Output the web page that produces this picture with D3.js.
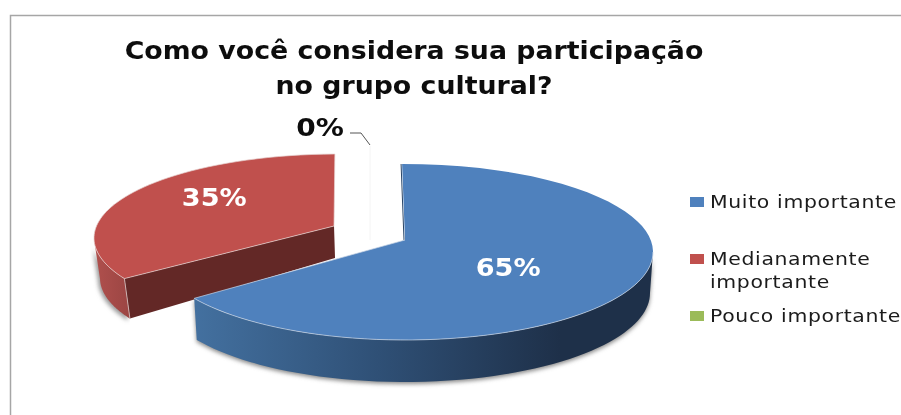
<!DOCTYPE html>
<html lang="pt">
<head>
<meta charset="utf-8">
<script src="https://cdn.jsdelivr.net/npm/d3@7"></script>
<style>
    html, body { margin: 0; padding: 0; background: #fff; overflow: hidden; }
    text { font-family: "DejaVu Sans", sans-serif; }
</style>
</head>
<body>
<svg id="chart" width="901" height="415"></svg>
<script>
// 図のデータ
const categories = ["Muito importante", "Medianamente importante", "Pouco importante"];
const values = [65, 35, 0];
const valueLabels = ["65%", "35%", "0%"];
const titleLines = ["Como você considera sua participação", "no grupo cultural?"];
const legendLines = [["Muito importante"], ["Medianamente", "importante"], ["Pouco importante"]];

const colors = ["#4f81bd", "#c0504d", "#9bbb59"];

const width = 901;
const height = 415;

const svg = d3.select("#chart");
const defs = svg.append("defs");

defs.append("filter").attr("id", "soft")
    .append("feGaussianBlur").attr("stdDeviation", 0.45);
defs.append("filter").attr("id", "shadow")
    .attr("x", "-5%").attr("y", "-5%").attr("width", "110%").attr("height", "115%")
    .append("feGaussianBlur").attr("stdDeviation", 2);

const blueWall = defs.append("linearGradient").attr("id", "blueWall")
    .attr("gradientUnits", "userSpaceOnUse")
    .attr("x1", 196).attr("x2", 560).attr("y1", 0).attr("y2", 0);
blueWall.append("stop").attr("offset", 0).attr("stop-color", "#43709f");
blueWall.append("stop").attr("offset", 0.5).attr("stop-color", "#2f5076");
blueWall.append("stop").attr("offset", 1).attr("stop-color", "#1e3049");

const redWall = defs.append("linearGradient").attr("id", "redWall")
    .attr("gradientUnits", "userSpaceOnUse")
    .attr("x1", 94).attr("x2", 130).attr("y1", 0).attr("y2", 0);
redWall.append("stop").attr("offset", 0).attr("stop-color", "#b0504d");
redWall.append("stop").attr("offset", 1).attr("stop-color", "#9b4543");

// 横に引き伸ばしたテキスト
const stretched = (sel, x, y, sx) => sel
    .attr("transform", `translate(${x},${y}) scale(${sx},1)`);

// 枠線
svg.append("path")
    .attr("d", "M10.5,415V15.5H901")
    .attr("fill", "none")
    .attr("stroke", "#a6a6a6")
    .attr("stroke-width", 1.5);

// タイトル
titleLines.forEach((t, i) => {
    svg.append("text")
        .call(stretched, 414, 59 + i * 35, 1.116)
        .attr("text-anchor", "middle")
        .attr("font-size", 24)
        .attr("font-weight", "bold")
        .attr("fill", "#111")
        .attr("filter", "url(#soft)")
        .text(t);
});

// 円グラフの角度
const TAU = Math.PI * 2;
const slices = d3.pie().sort(null).startAngle(-0.01).endAngle(TAU - 0.01)(values);

// 楕円上の点（k は遠近感のための角度補正）
const ellipse = (g, a) => {
    const t = a + (g.k * Math.PI / 180) * Math.sin(2 * a);
    return [g.cx + g.rx * Math.sin(t), g.cy - g.ry * Math.cos(t)];
};
const arcPoints = (g, a0, a1) => d3.range(0, 61).map(i => ellipse(g, a0 + (a1 - a0) * i / 60));
const line = d3.line();

const blueTop = { cx: 405, cy: 252, rx: 248, ry: 88, k: 5 };
const blueBottom = { cx: 405, cy: 293, rx: 245, ry: 89, k: 5 };
const redTop = { cx: 338, cy: 238, rx: 244, ry: 84, k: 8 };
const redBottom = { cx: 340, cy: 278, rx: 240, ry: 84, k: 8 };
const blueApex = [405, 240];
const redApex = [334, 226];
const redApexBottom = [335, 258];

const blue = slices[0];
const red = slices[1];
const chart = svg.append("g");

// 赤の側面
const redWallPts = arcPoints(redTop, red.startAngle, red.startAngle + 0.62)
    .concat(arcPoints(redBottom, red.startAngle + 0.62, red.startAngle));
chart.append("path").attr("d", line(redWallPts) + "Z")
    .attr("fill", "#999").attr("filter", "url(#shadow)").attr("transform", "translate(-2,2)");
chart.append("path").attr("d", line(redWallPts) + "Z")
    .attr("fill", "url(#redWall)");

// 赤の切断面
const redTip = ellipse(redTop, red.startAngle);
const redTipBottom = ellipse(redBottom, red.startAngle);
chart.append("path")
    .attr("d", line([redApex, redTip, redTipBottom, redApexBottom]) + "Z")
    .attr("fill", "#632826");
chart.append("path")
    .attr("d", line([redTip, redTipBottom]))
    .attr("stroke", "#d9c4c3").attr("stroke-width", 0.8);

// 赤の上面
chart.append("path")
    .attr("d", line([redApex].concat(arcPoints(redTop, red.startAngle, red.endAngle))) + "Z")
    .attr("fill", colors[1])
    .attr("stroke", "#e6d2d1")
    .attr("stroke-width", 0.7);

// 0% の細い線
chart.append("path")
    .attr("d", line([[370, 146], [370, 240]]))
    .attr("stroke", "#f4f4f4").attr("stroke-width", 1);

// 青の内側の縁
chart.append("path")
    .attr("d", line([ellipse(blueTop, blue.startAngle), blueApex]))
    .attr("stroke", "#2a4566").attr("stroke-width", 1)
    .attr("transform", "translate(-1,0)");

// 青の側面
const blueWallPts = arcPoints(blueTop, blue.endAngle, Math.PI * 0.5)
    .concat(arcPoints(blueBottom, Math.PI * 0.5, blue.endAngle));
chart.append("path").attr("d", line(blueWallPts) + "Z")
    .attr("fill", "#888").attr("filter", "url(#shadow)").attr("transform", "translate(0,2)");
chart.append("path").attr("d", line(blueWallPts) + "Z")
    .attr("fill", "url(#blueWall)");

// 青の上面
chart.append("path")
    .attr("d", line([blueApex].concat(arcPoints(blueTop, blue.startAngle, blue.endAngle))) + "Z")
    .attr("fill", colors[0]);
chart.append("path")
    .attr("d", line(arcPoints(blueTop, Math.PI * 0.5, blue.endAngle).concat([blueApex])))
    .attr("fill", "none")
    .attr("stroke", "#c5d3e4")
    .attr("stroke-width", 0.7);

// 値ラベル
const midAngle = d => (d.startAngle + d.endAngle) / 2;
const bluePos = ellipse({ ...blueTop, rx: blueTop.rx * 0.45, ry: blueTop.ry * 0.46 }, midAngle(blue));
const redPos = ellipse({ ...redTop, rx: redTop.rx * 0.54, ry: redTop.ry * 1.43 }, midAngle(red));

[[bluePos, valueLabels[0]], [redPos, valueLabels[1]]].forEach(([p, t]) => {
    svg.append("text")
        .call(stretched, p[0], p[1] + 9, 1.13)
        .attr("text-anchor", "middle").attr("font-size", 24).attr("font-weight", "bold")
        .attr("fill", "#fff").attr("filter", "url(#soft)").text(t);
});

// 0% ラベルと引き出し線
svg.append("text")
    .call(stretched, 320, 136, 1.17)
    .attr("text-anchor", "middle").attr("font-size", 24).attr("font-weight", "bold")
    .attr("fill", "#111").attr("filter", "url(#soft)").text(valueLabels[2]);
svg.append("path")
    .attr("d", "M350,133H361L370,145")
    .attr("fill", "none").attr("stroke", "#555").attr("stroke-width", 1);

// 凡例
const legendY = [202, 259, 316];
const legend = svg.append("g").selectAll("g")
    .data(categories)
    .join("g");
legend.append("rect")
    .attr("x", 690)
    .attr("y", (d, i) => legendY[i] - 5)
    .attr("width", 14)
    .attr("height", 10)
    .attr("fill", (d, i) => colors[i]);
legend.each(function (d, i) {
    d3.select(this).selectAll("text")
        .data(legendLines[i])
        .join("text")
        .attr("transform", (t, j) => `translate(710,${legendY[i] + 6 + j * 23}) scale(1.2,1)`)
        .attr("font-size", 17)
        .attr("letter-spacing", 0.55)
        .attr("fill", "#1a1a1a")
        .attr("filter", "url(#soft)")
        .text(t => t);
});
</script>
</body>
</html>
